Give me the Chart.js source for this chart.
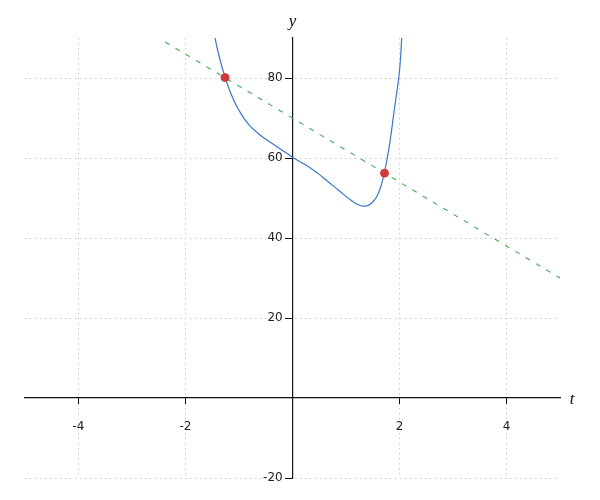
<!DOCTYPE html>
<html>
<head>
<meta charset="utf-8">
<script src="https://cdn.jsdelivr.net/npm/chart.js@4/dist/chart.umd.min.js"></script>
<style>
  html, body { margin: 0; padding: 0; background: #fff; }
  #wrap { width: 600px; height: 500px; }
</style>
</head>
<body>
<div id="wrap"><canvas id="chart" width="600" height="500"></canvas></div>
<script>
// ---------------------------------------------------------------------------
// Data
// ---------------------------------------------------------------------------
const curveT = [-1.47, -1.4, -1.3, -1.2, -1.1, -1.0, -0.9, -0.8, -0.7, -0.6, -0.5, -0.4, -0.3, -0.2, -0.1,
                0, 0.1, 0.2, 0.3, 0.4, 0.5, 0.6, 0.7, 0.8, 0.9, 1.0, 1.1, 1.2, 1.3, 1.4, 1.5, 1.6, 1.7, 1.8, 1.9, 2.0, 2.05];
const curveY = [91.5, 87.0, 81.9, 77.8, 74.5, 71.9, 69.8, 68.1, 66.8, 65.7, 64.7, 63.8, 62.9, 62.0, 61.1,
                60.2, 59.4, 58.6, 57.8, 56.9, 55.9, 54.8, 53.7, 52.6, 51.5, 50.4, 49.4, 48.5, 48.0, 48.1, 49.0, 51.0, 55.3, 62.2, 71.8, 81.8, 92.0];

const lineT = [-2.38, 5];         // dashed secant
const lineY = [89.0, 30.0];

const pointT = [-1.26, 1.72];     // intersection points
const pointY = [80.1, 56.2];

const xTicks = [-4, -2, 2, 4];
const yTicks = [-20, 20, 40, 60, 80];

const toXY = (ts, ys) => ts.map((t, i) => ({ x: t, y: ys[i] }));

// axis letters drawn next to the axes
const axisTitles = {
  id: "axisTitles",
  afterDraw(chart) {
    const { ctx, scales: { x, y } } = chart;
    ctx.save();
    ctx.fillStyle = "#111";
    ctx.font = "italic 17px 'Liberation Serif'";
    ctx.textAlign = "center";
    ctx.textBaseline = "middle";
    ctx.fillText("y", x.getPixelForValue(0), 22);
    ctx.fillText("t", 572, y.getPixelForValue(0) + 2);
    ctx.restore();
  }
};

new Chart(document.getElementById("chart"), {
  type: "line",
  data: {
    datasets: [
      {
        data: toXY(pointT, pointY),
        showLine: false,
        pointRadius: 4,
        pointBackgroundColor: "#cf3a3a",
        pointBorderColor: "#cf3a3a",
      },
      {
        data: toXY(lineT, lineY),
        borderColor: "#48a85a",
        borderWidth: 1.1,
        borderDash: [5, 7],
        pointRadius: 0,
      },
      {
        data: toXY(curveT, curveY),
        borderColor: "#3a78c8",
        borderWidth: 1.2,
        pointRadius: 0,
        tension: 0.4,
      }
    ]
  },
  options: {
    responsive: false,
    animation: false,
    layout: { padding: { left: 25, right: 40, top: 38, bottom: 22 } },
    plugins: { legend: { display: false }, tooltip: { enabled: false } },
    scales: {
      x: {
        type: "linear",
        min: -5, max: 5,
        position: { y: 0 },
        afterBuildTicks: s => { s.ticks = xTicks.map(v => ({ value: v })); },
        grid: { color: "#cccccc", tickColor: "#111", tickLength: 6, tickBorderDash: [20, 0] },
        border: { color: "#111", width: 1.2, dash: [1.5, 3.5] },
        ticks: { color: "#222", padding: 16, font: { family: "DejaVu Sans", size: 12 } }
      },
      y: {
        type: "linear",
        min: -20, max: 90,
        position: { x: 0 },
        afterBuildTicks: s => { s.ticks = yTicks.map(v => ({ value: v })); },
        grid: { color: "#cccccc", tickColor: "#111", tickLength: 7, tickBorderDash: [20, 0] },
        border: { color: "#111", width: 1.2, dash: [1.5, 3.5] },
        // labels of a value-positioned axis sit on the axis line, so pad them on the right
        ticks: { color: "#222", font: { family: "DejaVu Sans", size: 12 }, callback: v => v + "\u2002 " }
      }
    }
  },
  plugins: [axisTitles]
});
</script>
</body>
</html>
